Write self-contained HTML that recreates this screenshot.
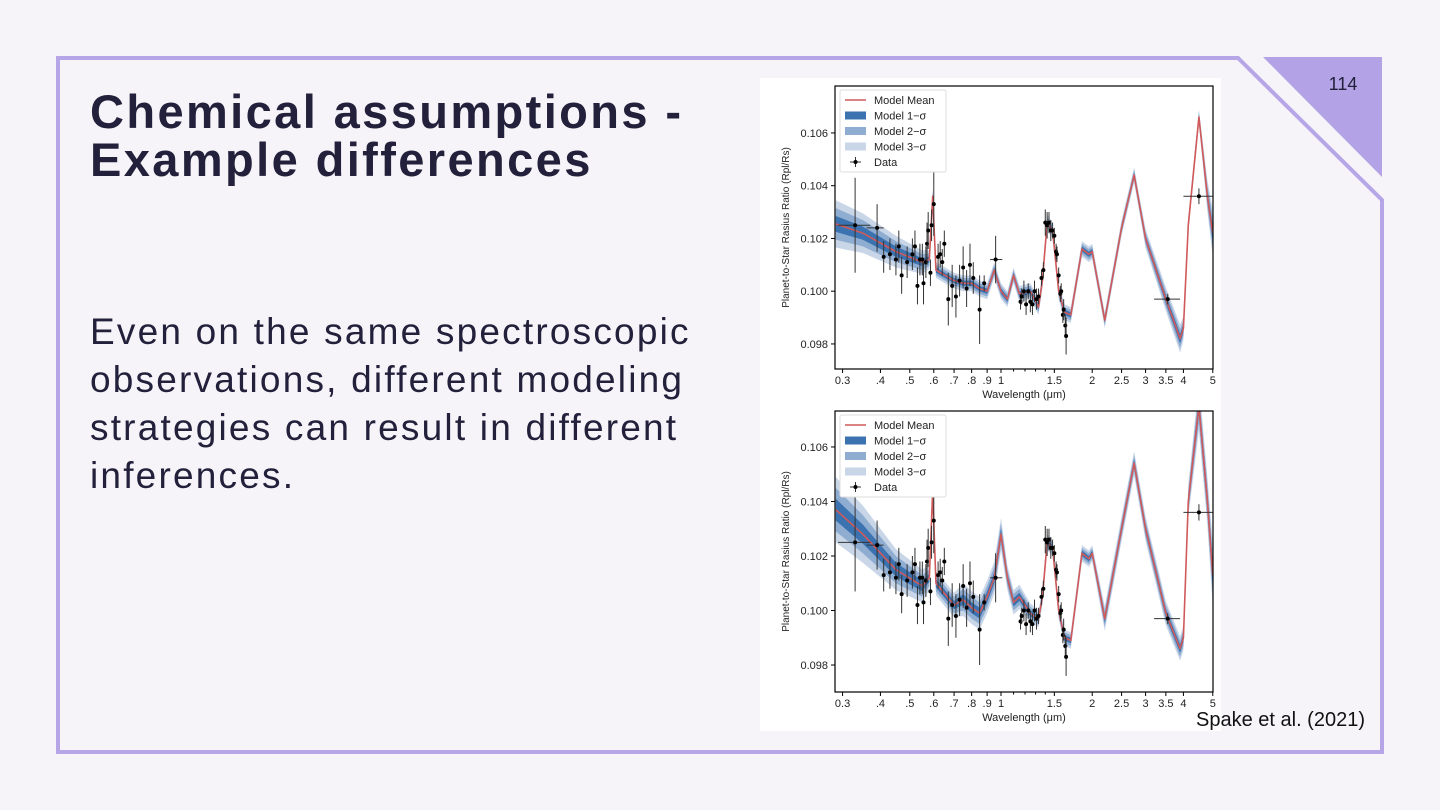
<!DOCTYPE html>
<html><head><meta charset="utf-8"><style>
body{margin:0;width:1440px;height:810px;background:#f6f4f8;overflow:hidden;font-family:"Liberation Sans",sans-serif;position:relative}
#title{position:absolute;left:90px;top:88px;font-size:47px;font-weight:bold;color:#22203a;line-height:48px;margin:0;letter-spacing:2.4px}
#body{position:absolute;left:90px;top:308px;font-size:37px;color:#22203a;line-height:48px;width:700px;letter-spacing:2.2px}
#cite{position:absolute;left:1196px;top:709px;font-size:20px;color:#111}
svg{position:absolute;left:0;top:0}
</style></head><body>
<svg width="1440" height="810">
<path d="M58,58 L1238,58 L1382,200 L1382,752 L58,752 Z" fill="none" stroke="#b6a6e8" stroke-width="4"/>
<polygon points="1263,57 1382,57 1382,177" fill="#b3a3e6"/>
<text x="1343" y="90" font-size="18" fill="#22203a" text-anchor="middle" font-family="Liberation Sans">114</text>
<rect x="760" y="78" width="461" height="653" fill="#fff"/>
<g id="plots"></g>
</svg>
<h1 id="title">Chemical assumptions -<br>Example differences</h1>
<div id="body">Even on the same spectroscopic<br>observations, different modeling<br>strategies can result in different<br>inferences.</div>
<div id="cite">Spake et al. (2021)</div>
<script>
const modelWl=[0.285,0.35,0.45,0.55,0.58,0.595,0.61,0.7,0.75,0.8,0.85,0.9,0.95,1.0,1.05,1.1,1.15,1.25,1.33,1.37,1.42,1.48,1.55,1.62,1.7,1.85,1.95,2.0,2.2,2.5,2.75,3.0,3.5,3.9,4.0,4.15,4.5,4.8,5.0];
const meanTop=[0.10255,0.1022,0.1015,0.1011,0.1012,0.1036,0.1008,0.1004,0.1003,0.1003,0.1001,0.1000,0.1008,0.1000,0.0997,0.1006,0.0999,0.1000,0.0994,0.1004,0.1026,0.1023,0.1000,0.0992,0.0991,0.1016,0.1014,0.1015,0.0989,0.1024,0.1044,0.1020,0.0997,0.0982,0.0986,0.1025,0.1066,0.1036,0.1022];
const meanBottom=[0.1037,0.1028,0.1015,0.1009,0.1012,0.1044,0.1010,0.1002,0.1004,0.1001,0.0999,0.1005,0.1012,0.1028,0.1012,0.1003,0.1005,0.0999,0.0997,0.1005,0.1025,0.1023,0.1000,0.0990,0.0989,0.1021,0.1019,0.1021,0.0997,0.1030,0.1054,0.1030,0.0999,0.0986,0.0990,0.1040,0.1075,0.1040,0.1013];
const sigTop=[0.0003,0.00025,0.0002,0.00015,0.00012,0.0001,0.0001,0.0001,0.0001,0.0001,0.0001,0.0001,0.0001,0.0001,0.0001,0.0001,0.0001,0.0001,0.0001,0.0001,0.0001,0.0001,0.0001,0.0001,0.0001,0.0001,0.0001,0.0001,0.0001,0.0001,0.0001,0.00012,0.00015,0.00018,0.00015,0.0001,0.0001,0.0002,0.0003];
const sigBottom=[0.0004,0.00035,0.00025,0.0002,0.00015,0.00015,0.00015,0.00015,0.0002,0.0002,0.0002,0.0002,0.0002,0.0002,0.00015,0.00015,0.00015,0.00012,0.0001,0.0001,0.0001,0.0001,0.0001,0.0001,0.0001,0.0001,0.0001,0.0001,0.00015,0.00015,0.00015,0.00015,0.00015,0.00015,0.00015,0.0002,0.0003,0.0003,0.0004];
const dataWl=[0.33,0.39,0.41,0.43,0.45,0.46,0.47,0.49,0.51,0.52,0.53,0.54,0.55,0.555,0.565,0.57,0.575,0.585,0.59,0.60,0.62,0.63,0.64,0.65,0.67,0.69,0.71,0.73,0.75,0.77,0.79,0.81,0.85,0.88,0.96,1.16,1.17,1.19,1.21,1.23,1.25,1.27,1.29,1.31,1.33,1.36,1.38,1.40,1.42,1.44,1.46,1.48,1.50,1.52,1.53,1.55,1.57,1.58,1.60,1.61,1.63,1.64,3.55,4.5];
const dataVal=[0.1025,0.1024,0.1013,0.1014,0.1012,0.1017,0.1006,0.1011,0.1014,0.1017,0.1002,0.1012,0.1012,0.1003,0.1011,0.1018,0.1023,0.1007,0.1025,0.1033,0.1013,0.1014,0.1011,0.1018,0.0997,0.1002,0.0998,0.1004,0.1009,0.1001,0.1010,0.1005,0.0993,0.1003,0.1012,0.0996,0.0998,0.1000,0.0995,0.1000,0.0996,0.0995,0.1000,0.0997,0.0998,0.1005,0.1008,0.1026,0.1025,0.1026,0.1023,0.1023,0.1021,0.1015,0.1014,0.1006,0.0999,0.1000,0.0991,0.0993,0.0987,0.0983,0.0997,0.1036];
const dataErr=[0.0018,0.0009,0.0006,0.0006,0.0006,0.0006,0.0007,0.0006,0.0006,0.0006,0.0007,0.0006,0.0006,0.0008,0.0006,0.0008,0.0007,0.0005,0.0006,0.0012,0.0005,0.0005,0.0005,0.0005,0.0010,0.0008,0.0008,0.0006,0.0008,0.0007,0.0008,0.0006,0.0013,0.0003,0.0009,0.0003,0.0003,0.0004,0.0004,0.0003,0.0004,0.0004,0.0004,0.0004,0.0003,0.0003,0.0003,0.0005,0.0005,0.0004,0.0004,0.0003,0.0003,0.0003,0.0003,0.0003,0.0003,0.0003,0.0003,0.0004,0.0004,0.0007,0.0002,0.0003];
const dataXLo=[0.29,0.36,0,0,0,0,0,0,0,0,0,0,0,0,0,0,0,0,0,0,0,0,0,0,0,0,0,0,0,0,0,0,0,0,0.92,0,0,0,0,0,0,0,0,0,0,0,0,0,0,0,0,0,0,0,0,0,0,0,0,0,0,0,3.2,4.0];
const dataXHi=[0.37,0.41,0,0,0,0,0,0,0,0,0,0,0,0,0,0,0,0,0,0,0,0,0,0,0,0,0,0,0,0,0,0,0,0,1.01,0,0,0,0,0,0,0,0,0,0,0,0,0,0,0,0,0,0,0,0,0,0,0,0,0,0,0,3.9,5.3];
const xTickVals=[0.3,0.4,0.5,0.6,0.7,0.8,0.9,1,1.5,2,2.5,3,3.5,4,5];
const xTickLabels=["0.3",".4",".5",".6",".7",".8",".9","1","1.5","2","2.5","3","3.5","4","5"];
const yTickVals=[0.098,0.100,0.102,0.104,0.106];
const yTickLabels=["0.098","0.100","0.102","0.104","0.106"];
const NS="http://www.w3.org/2000/svg";
const root=document.getElementById('plots');
function mk(tag,attrs,parent){const e=document.createElementNS(NS,tag);for(const k in attrs)e.setAttribute(k,attrs[k]);(parent||root).appendChild(e);return e;}
function plot(name,top,bot,yTop,yBot,mean,sig){
  const L=835,R=1213;
  const g=mk('g',{});
  
  
  const xs=w=>1001+Math.log10(w)*303;
  const ys=v=>top+(yTop-v)/(yTop-yBot)*(bot-top);
  const cp=mk('clipPath',{id:'c'+name},g);mk('rect',{x:L,y:top,width:R-L,height:bot-top},cp);
  const cg=mk('g',{'clip-path':'url(#c'+name+')'},g);
  [[3,'#c9d6e8'],[2,'#8fadd1'],[1,'#3b72b0']].forEach(([k,c])=>{
    let d='';modelWl.forEach((w,i)=>{d+=(i?'L':'M')+xs(w)+','+ys(mean[i]+k*sig[i]);});
    for(let i=modelWl.length-1;i>=0;i--)d+='L'+xs(modelWl[i])+','+ys(mean[i]-k*sig[i]);
    const b=mk('path',{d:d+'Z',fill:c},cg);
    
    
  });
  let d='';modelWl.forEach((w,i)=>{d+=(i?'L':'M')+xs(w)+','+ys(mean[i]);});
  const ml=mk('path',{d:d,fill:'none',stroke:'#d0595a','stroke-width':1.6,'stroke-linejoin':'round'},cg);
  
  
  dataWl.forEach((w,i)=>{
    const x=xs(w),y=ys(dataVal[i]);
    mk('line',{x1:x,x2:x,y1:ys(dataVal[i]+dataErr[i]),y2:ys(dataVal[i]-dataErr[i]),stroke:'#333','stroke-width':1},cg);
    if(dataXLo[i])mk('line',{x1:xs(dataXLo[i]),x2:xs(dataXHi[i]),y1:y,y2:y,stroke:'#333','stroke-width':1},cg);
    const p=mk('circle',{cx:x,cy:y,r:2,fill:'#000'},cg);
    
    
  });
  mk('rect',{x:L,y:top,width:R-L,height:bot-top,fill:'none',stroke:'#000','stroke-width':1.2},g);
  xTickVals.forEach((v,i)=>{const x=xs(v);mk('line',{x1:x,x2:x,y1:bot,y2:bot+4,stroke:'#000'},g);
    const t=mk('text',{x:x,y:bot+15,'font-size':11,'text-anchor':'middle',fill:'#222'},g);t.textContent=xTickLabels[i];});
  [1.1,1.2,1.3,1.4].forEach(v=>mk('line',{x1:xs(v),x2:xs(v),y1:bot,y2:bot+2.5,stroke:'#000'},g));
  yTickVals.forEach((v,i)=>{const y=ys(v);mk('line',{x1:L-4,x2:L,y1:y,y2:y,stroke:'#000'},g);
    const t=mk('text',{x:L-7,y:y+4,'font-size':11,'text-anchor':'end',fill:'#222'},g);t.textContent=yTickLabels[i];});
  const xl=mk('text',{x:(L+R)/2,y:bot+29,'font-size':11,'text-anchor':'middle',fill:'#222'},g);xl.textContent='Wavelength (μm)';
  
  const yl=mk('text',{x:0,y:0,'font-size':10,'text-anchor':'middle',fill:'#222',transform:`translate(${L-46},${(top+bot)/2}) rotate(-90)`},g);yl.textContent='Planet-to-Star Rasius Ratio (Rpl/Rs)';
  
  const lg=mk('g',{},g);
  mk('rect',{x:L+5,y:top+4,width:106,height:82,fill:'#fff',stroke:'#ddd',rx:2},lg);
  const labs=['Model Mean','Model 1−σ','Model 2−σ','Model 3−σ','Data'];
  labs.forEach((s,i)=>{const y=top+14+i*15.5;
    if(i==0)mk('line',{x1:L+10,x2:L+31,y1:y,y2:y,stroke:'#d0595a','stroke-width':1.5},lg);
    else if(i<4)mk('rect',{x:L+10,y:y-4,width:21,height:8,fill:['','#3b72b0','#8fadd1','#c9d6e8'][i]},lg);
    else{mk('line',{x1:L+15,x2:L+26,y1:y,y2:y,stroke:'#333'},lg);mk('line',{x1:L+20.5,x2:L+20.5,y1:y-5,y2:y+5,stroke:'#333'},lg);mk('circle',{cx:L+20.5,cy:y,r:2},lg);}
    const t=mk('text',{x:L+39,y:y+4,'font-size':11,fill:'#222'},lg);t.textContent=s;});
}
plot('top-spectrum-plot',86,369,0.10778,0.09705,meanTop,sigTop);
plot('bottom-spectrum-plot',411,692,0.10732,0.09701,meanBottom,sigBottom);
</script>
</body></html>
